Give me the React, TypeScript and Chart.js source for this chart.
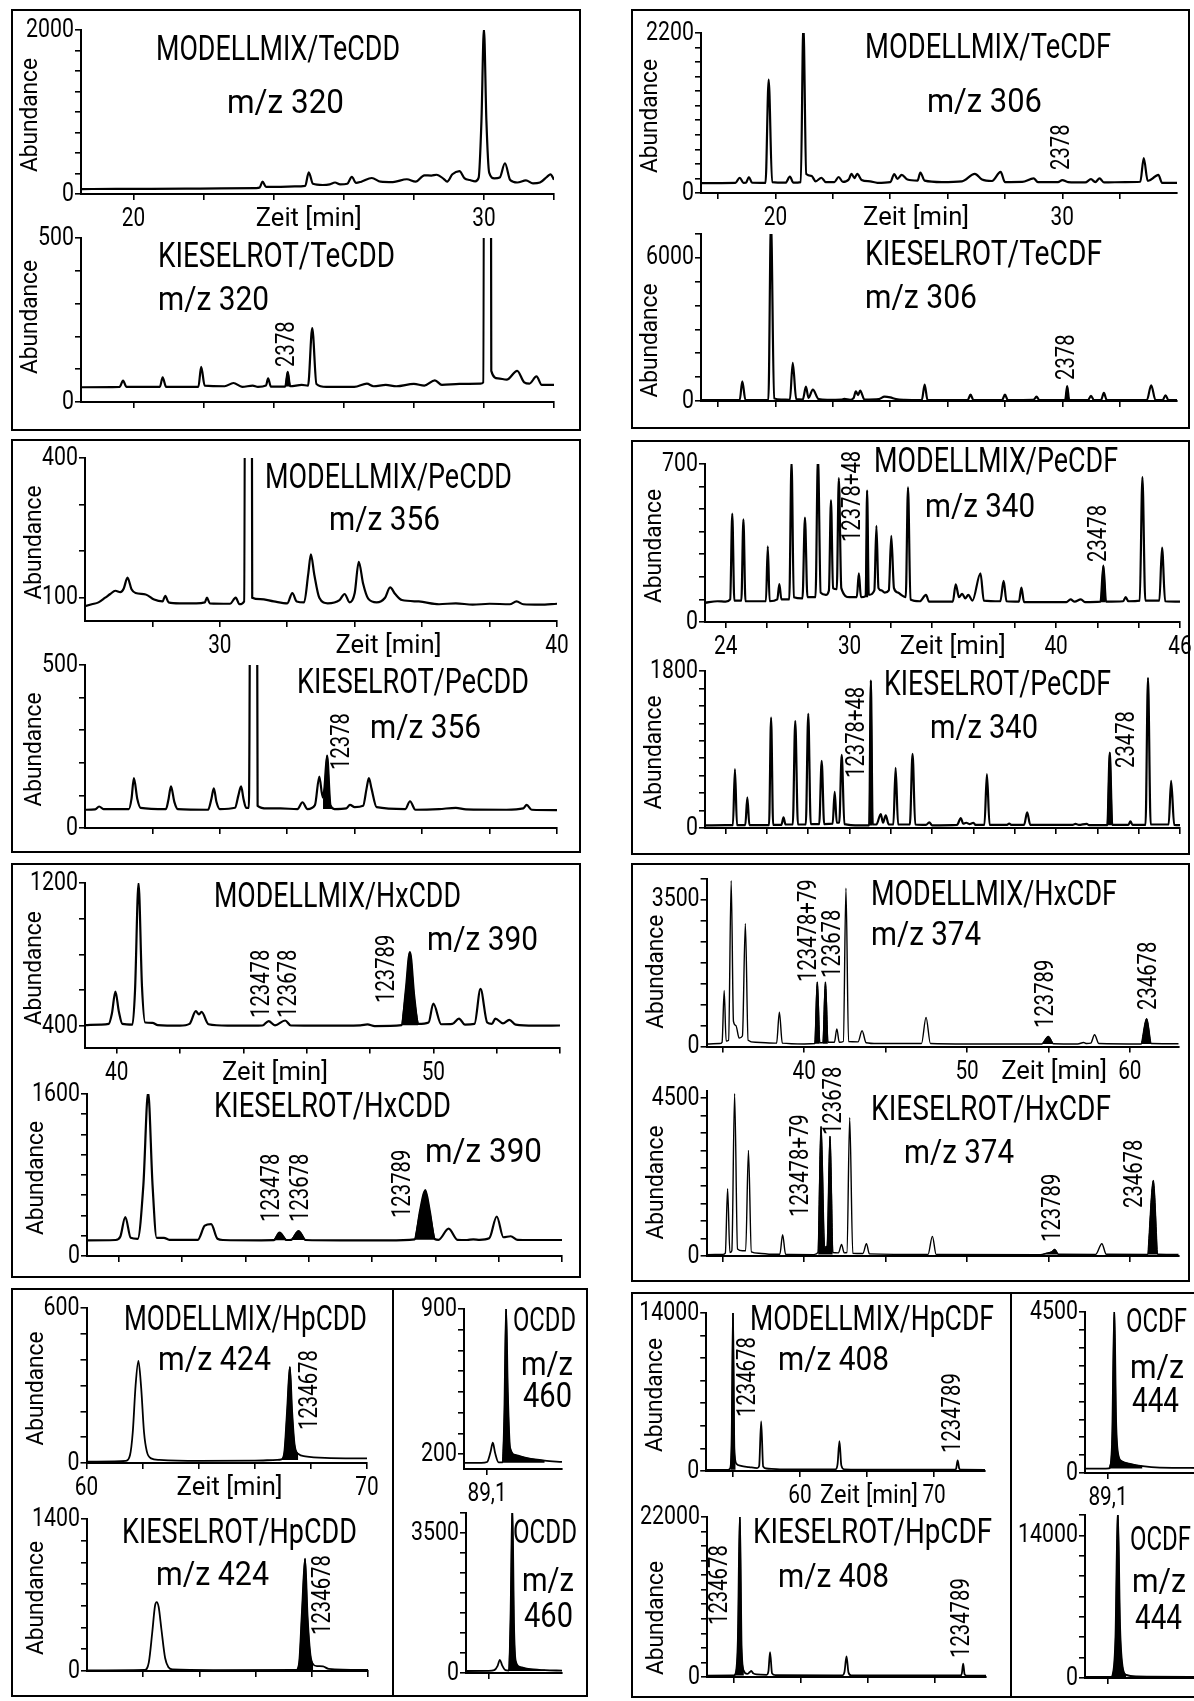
import React, { useEffect, useRef } from 'react';
import { Chart, registerables } from 'chart.js';
Chart.register(...registerables);

type Pt = [number, number];
type Fill = { pts: Pt[]; base: number };
type PeakLabel = { x: number; y: number; text: string };
type Txt = { text: string; x: number; y: number; size: number; w: number };

const FONT = 'Roboto, "DejaVu Sans", sans-serif';
const range = (a: number, b: number, s: number) => { const o: number[] = []; for (let v = a; v <= b + 1e-9; v += s) o.push(+v.toFixed(4)); return o; };

// ---------------- DATA ----------------
// TeCDD m/z 320
const tecddModell: Pt[] = [[18.5,60],[19.5,62],[20.5,63],[21.5,65],[22.5,68],[23.5,72],[23.6,80],[23.68,150],[23.78,88],[24.2,88],[24.6,92],[24.9,100],[25.0,265],[25.12,125],[25.4,110],[25.6,118],[25.75,140],[25.9,118],[26.1,125],[26.23,210],[26.35,135],[26.5,150],[26.8,195],[27.05,150],[27.4,145],[27.8,180],[28.05,150],[28.3,228],[28.5,225],[28.65,235],[28.85,185],[28.95,150],[29.1,240],[29.3,280],[29.45,190],[29.6,170],[29.75,155],[29.85,200],[29.93,900],[30.0,2020],[30.07,900],[30.15,260],[30.3,190],[30.45,200],[30.6,375],[30.75,170],[30.95,140],[31.2,165],[31.4,130],[31.6,140],[31.8,210],[31.9,240],[32.0,175]];
const tecddKiesel: Pt[] = [[18.5,45],[19.6,46],[19.7,65],[19.8,46],[20.75,46],[20.83,75],[20.93,46],[21.85,46],[21.93,107],[22.03,50],[22.6,48],[22.85,58],[23.1,46],[23.4,50],[23.55,46],[23.78,50],[23.84,72],[23.92,47],[24.33,47],[24.4,92],[24.47,48],[24.8,52],[24.98,50],[25.1,225],[25.22,55],[25.5,46],[26.3,46],[26.66,56],[26.85,48],[27.2,52],[27.5,48],[28.0,55],[28.3,50],[28.6,66],[28.8,52],[29.3,55],[29.9,56],[29.98,60],[30.09,8000],[30.21,95],[30.4,72],[30.65,68],[30.95,95],[31.15,60],[31.3,56],[31.5,78],[31.65,52],[32.0,52]];
const tecddKieselFill: Pt[] = [[24.33,47],[24.4,92],[24.47,48]];

// TeCDF m/z 306
const tecdfModell: Pt[] = [[17.4,135],[18.6,138],[18.75,210],[18.88,140],[18.97,142],[19.07,220],[19.18,142],[19.65,140],[19.76,1560],[19.88,150],[20.35,142],[20.5,225],[20.62,142],[20.88,150],[20.97,2330],[21.07,260],[21.25,235],[21.4,160],[21.6,210],[21.75,150],[22.05,150],[22.2,220],[22.35,152],[22.55,185],[22.65,265],[22.75,205],[22.85,262],[23.0,180],[23.3,160],[23.55,140],[24.0,150],[24.14,260],[24.25,195],[24.4,250],[24.6,185],[24.95,170],[25.05,280],[25.2,170],[25.8,150],[26.5,160],[26.95,262],[27.2,185],[27.55,165],[27.85,290],[28.0,150],[28.6,152],[29.0,200],[29.15,150],[29.85,150],[30.0,178],[30.2,150],[30.8,145],[31.0,190],[31.15,150],[31.3,200],[31.45,145],[32.2,150],[32.72,155],[32.84,480],[32.98,165],[33.25,230],[33.35,250],[33.48,140],[34.0,140]];
const tecdfKiesel: Pt[] = [[17.4,40],[18.75,40],[18.84,820],[18.95,42],[19.75,42],[19.84,7600],[19.95,110],[20.2,60],[20.5,50],[20.6,1600],[20.72,80],[20.95,60],[21.06,600],[21.15,130],[21.3,480],[21.5,80],[21.8,50],[22.3,60],[22.4,90],[22.6,50],[22.72,120],[22.8,400],[22.88,250],[22.95,440],[23.1,60],[23.6,80],[23.8,180],[24.0,150],[24.2,80],[24.5,50],[25.1,40],[25.2,690],[25.3,42],[26.7,40],[26.8,270],[26.9,40],[27.9,40],[28.0,270],[28.1,40],[29.0,50],[29.1,180],[29.2,40],[30.1,40],[30.17,620],[30.24,40],[30.9,40],[31.0,220],[31.1,40],[31.35,40],[31.45,340],[31.55,40],[32.95,40],[33.1,660],[33.25,40],[33.5,40],[33.6,240],[33.7,40],[34.0,40]];
const tecdfKieselFill: Pt[] = [[30.11,40],[30.17,620],[30.23,40]];

// PeCDD m/z 356
const pecddModell: Pt[] = [[26.0,82],[26.2,86],[26.4,90],[26.6,100],[26.75,108],[26.9,115],[27.05,112],[27.15,120],[27.26,143],[27.38,118],[27.5,110],[27.8,107],[28.05,96],[28.3,92],[28.38,104],[28.48,90],[28.8,88],[29.3,88],[29.55,90],[29.62,100],[29.7,88],[30.3,87],[30.47,100],[30.58,86],[30.72,92],[30.84,5000],[30.96,100],[31.2,97],[31.6,92],[32.0,88],[32.15,110],[32.28,92],[32.5,90],[32.62,150],[32.7,193],[32.8,150],[32.95,100],[33.2,88],[33.55,95],[33.7,108],[33.85,90],[34.0,110],[34.12,177],[34.25,130],[34.4,98],[34.65,90],[34.9,100],[35.05,122],[35.2,108],[35.4,95],[35.9,92],[36.5,86],[37.0,88],[37.5,85],[38.0,87],[38.6,86],[38.8,92],[39.0,86],[39.5,85],[40.0,87]];
const pecddKiesel: Pt[] = [[26.0,56],[26.3,57],[26.42,66],[26.55,58],[27.3,58],[27.38,90],[27.45,153],[27.55,90],[27.65,62],[28.4,58],[28.48,90],[28.55,128],[28.65,80],[28.75,58],[29.65,56],[29.75,90],[29.82,122],[29.9,80],[30.0,58],[30.45,62],[30.55,100],[30.63,128],[30.7,90],[30.78,62],[30.86,62],[31.0,5000],[31.12,68],[31.4,60],[31.8,60],[32.3,58],[32.45,79],[32.6,58],[32.82,70],[32.95,158],[33.05,95],[33.1,120],[33.18,222],[33.28,70],[33.4,58],[33.75,60],[33.86,71],[34.0,64],[34.25,68],[34.35,120],[34.42,153],[34.5,120],[34.65,64],[35.5,58],[35.64,82],[35.8,56],[36.5,58],[37.0,62],[37.3,57],[38.5,56],[39.0,60],[39.1,71],[39.25,56],[40.0,55]];
const pecddKieselFill: Pt[] = [[33.06,90],[33.1,120],[33.18,222],[33.28,70],[33.33,62]];

// PeCDF m/z 340
const pecdfModell: Pt[] = [[23.0,85],[23.6,92],[24.0,90],[24.22,100],[24.32,480],[24.42,95],[24.76,95],[24.86,455],[24.96,92],[25.95,92],[26.04,335],[26.13,92],[26.5,100],[26.6,168],[26.7,100],[27.08,100],[27.19,715],[27.3,110],[27.72,105],[27.84,463],[27.96,110],[28.35,110],[28.47,735],[28.6,130],[28.85,120],[29.0,140],[29.1,540],[29.2,150],[29.38,145],[29.48,637],[29.6,150],[30.0,110],[30.35,110],[30.45,216],[30.55,110],[30.78,115],[30.85,582],[30.93,120],[31.2,140],[31.3,426],[31.4,150],[31.55,140],[31.7,130],[31.9,140],[32.02,382],[32.15,150],[32.35,130],[32.5,120],[32.72,110],[32.83,596],[32.95,100],[33.4,92],[33.7,120],[33.85,90],[35.0,90],[35.14,167],[35.3,110],[35.45,125],[35.6,105],[35.75,120],[35.95,95],[36.34,216],[36.5,95],[37.3,92],[37.46,182],[37.6,92],[38.2,90],[38.32,152],[38.45,88],[40.5,88],[40.7,100],[40.9,90],[41.2,100],[41.4,88],[42.15,90],[42.29,250],[42.42,90],[43.25,92],[43.37,110],[43.5,92],[44.05,95],[44.18,642],[44.32,95],[45.0,95],[45.13,330],[45.28,92],[46.0,90]];
const pecdfModellFill1: Pt[] = [[30.79,115],[30.85,582],[30.91,120]];
const pecdfModellFill2: Pt[] = [[42.17,90],[42.29,250],[42.4,90]];
const pecdfKiesel: Pt[] = [[23.0,30],[24.0,32],[24.35,32],[24.45,675],[24.55,32],[24.95,32],[25.05,350],[25.15,32],[26.1,32],[26.2,1265],[26.3,35],[26.7,35],[26.8,122],[26.9,40],[27.25,40],[27.37,1227],[27.5,40],[27.88,40],[28.0,1310],[28.12,45],[28.53,45],[28.65,770],[28.77,45],[29.18,50],[29.28,415],[29.38,60],[29.5,60],[29.62,838],[29.75,45],[30.5,30],[30.95,30],[31.03,1690],[31.12,40],[31.3,40],[31.51,160],[31.62,60],[31.75,145],[31.9,40],[32.12,40],[32.23,690],[32.35,40],[32.92,40],[33.05,850],[33.18,40],[33.7,35],[33.86,65],[34.0,30],[35.2,35],[35.39,114],[35.5,50],[35.65,60],[35.8,45],[36.0,60],[36.1,35],[36.53,35],[36.65,617],[36.78,35],[37.6,35],[37.73,50],[37.85,35],[38.45,35],[38.6,179],[38.75,35],[40.8,35],[40.94,48],[41.1,35],[41.48,48],[41.6,32],[42.48,32],[42.6,865],[42.72,35],[43.5,35],[43.6,76],[43.7,35],[44.33,35],[44.45,1722],[44.58,40],[45.45,40],[45.57,541],[45.72,35],[46.0,32]];
const pecdfKieselFill1: Pt[] = [[30.95,30],[31.03,1690],[31.12,40]];
const pecdfKieselFill2: Pt[] = [[42.48,32],[42.6,865],[42.72,35]];

// HxCDD m/z 390
const hxcddModell: Pt[] = [[39.0,405],[39.5,408],[39.75,412],[39.85,470],[39.96,593],[40.07,480],[40.18,412],[40.5,408],[40.58,600],[40.69,1200],[40.8,620],[40.9,420],[41.13,418],[41.3,405],[42.0,402],[42.3,412],[42.5,483],[42.6,465],[42.68,479],[42.9,410],[43.5,402],[44.3,402],[44.6,403],[44.8,428],[45.0,404],[45.32,431],[45.5,403],[46.5,402],[47.7,404],[47.92,409],[48.15,400],[49.0,405],[49.13,600],[49.26,814],[49.4,560],[49.52,412],[49.85,420],[50.0,525],[50.25,410],[50.6,412],[50.81,442],[51.0,408],[51.3,412],[51.49,608],[51.7,420],[51.85,412],[51.96,442],[52.2,415],[52.4,435],[52.6,408],[53.2,402],[54.0,403]];
const hxcddModellFill: Pt[] = [[49.0,405],[49.13,600],[49.26,814],[49.4,560],[49.52,412]];
const hxcddKiesel: Pt[] = [[39.0,155],[39.9,158],[40.05,190],[40.21,385],[40.38,180],[40.6,170],[40.78,700],[40.93,1620],[41.07,700],[41.2,180],[41.43,180],[41.6,160],[42.5,160],[42.72,300],[42.92,315],[43.12,170],[43.3,158],[44.5,155],[44.9,156],[45.08,230],[45.3,158],[45.45,160],[45.68,246],[45.9,158],[47.0,155],[48.5,155],[49.35,165],[49.52,450],[49.68,650],[49.82,450],[49.98,168],[50.1,160],[50.42,270],[50.7,160],[51.0,158],[51.2,165],[51.4,160],[51.7,175],[51.94,390],[52.15,185],[52.38,195],[52.6,160],[53.0,158],[54.0,158]];
const hxcddKieselFill1: Pt[] = [[44.9,156],[45.08,230],[45.3,158]];
const hxcddKieselFill2: Pt[] = [[45.45,160],[45.68,246],[45.9,158]];
const hxcddKieselFill3: Pt[] = [[49.35,165],[49.52,450],[49.68,650],[49.82,450],[49.98,168]];

// HxCDF m/z 374
const hxcdfModell: Pt[] = [[34.0,60],[34.8,70],[34.95,100],[35.08,1340],[35.2,130],[35.35,150],[35.51,3960],[35.65,600],[35.8,500],[36.0,200],[36.2,250],[36.38,2940],[36.55,150],[37.0,100],[38.3,80],[38.47,820],[38.65,80],[40.0,60],[40.65,70],[40.8,1540],[40.95,90],[41.15,90],[41.3,1540],[41.45,100],[41.85,100],[42.0,420],[42.15,100],[42.4,120],[42.56,3780],[42.72,120],[43.3,110],[43.55,375],[43.8,90],[44.5,70],[47.2,70],[47.48,695],[47.75,70],[50.0,60],[54.6,60],[54.99,240],[55.3,65],[56.8,60],[57.16,96],[57.35,70],[57.6,80],[57.83,280],[58.1,70],[60.7,60],[61.03,665],[61.3,70],[63.0,65]];
const hxcdfModellFill1: Pt[] = [[40.65,70],[40.8,1540],[40.95,90]];
const hxcdfModellFill2: Pt[] = [[41.15,90],[41.3,1540],[41.45,100]];
const hxcdfModellFill3: Pt[] = [[54.6,60],[54.99,240],[55.3,65]];
const hxcdfModellFill4: Pt[] = [[60.7,60],[61.03,665],[61.3,70]];
const hxcdfKiesel: Pt[] = [[34.0,40],[35.0,45],[35.15,80],[35.29,1915],[35.43,100],[35.55,150],[35.72,4620],[35.9,200],[36.2,150],[36.4,150],[36.57,3010],[36.75,120],[37.2,80],[38.0,50],[38.5,50],[38.67,610],[38.85,50],[40.6,40],[40.85,100],[41.03,3690],[41.25,250],[41.4,280],[41.58,3410],[41.75,100],[42.1,90],[42.29,330],[42.45,90],[42.62,100],[42.79,3940],[42.98,80],[43.6,70],[43.82,350],[44.0,60],[47.6,45],[47.87,560],[48.1,45],[54.5,40],[54.9,80],[55.2,120],[55.38,190],[55.6,50],[57.9,45],[58.28,350],[58.55,50],[61.1,45],[61.44,2150],[61.7,50],[63.0,45]];
const hxcdfKieselFill1: Pt[] = [[40.85,100],[41.03,3690],[41.25,250],[41.4,280],[41.58,3410],[41.75,100]];
const hxcdfKieselFill2: Pt[] = [[54.6,40],[54.9,80],[55.2,120],[55.38,190],[55.6,50]];
const hxcdfKieselFill3: Pt[] = [[61.1,45],[61.44,2150],[61.7,50]];

// HpCDD m/z 424, OCDD m/z 460
const hpcddModell: Pt[] = [[60.0,5],[61.0,6],[61.4,8],[61.55,30],[61.65,120],[61.75,300],[61.85,395],[61.95,290],[62.05,120],[62.15,45],[62.3,18],[62.6,12],[64.0,8],[66.0,9],[66.8,12],[66.95,14],[67.05,40],[67.15,200],[67.25,372],[67.33,200],[67.42,70],[67.55,35],[67.8,26],[68.5,20],[70.0,18]];
const hpcddModellFill: Pt[] = [[66.95,14],[67.05,40],[67.15,200],[67.25,372],[67.33,200],[67.42,70],[67.55,35]];
const hpcddKiesel: Pt[] = [[60.0,6],[62.05,10],[62.2,80],[62.32,350],[62.42,600],[62.48,635],[62.55,590],[62.65,380],[62.78,120],[62.9,35],[63.05,14],[64.5,8],[67.45,10],[67.55,80],[67.65,550],[67.76,1035],[67.85,500],[67.95,150],[68.05,60],[68.2,45],[68.4,42],[68.6,20],[70.0,10]];
const hpcddKieselFill: Pt[] = [[67.45,10],[67.55,80],[67.65,550],[67.76,1035],[67.85,500],[67.95,150],[68.05,60]];
const ocddModell: Pt[] = [[88.9,158],[89.05,158],[89.1,162],[89.13,210],[89.15,255],[89.17,205],[89.2,160],[89.235,160],[89.25,400],[89.265,910],[89.28,500],[89.3,230],[89.35,195],[89.45,180],[89.6,168],[89.75,162]];
const ocddModellFill: Pt[] = [[89.235,160],[89.25,400],[89.265,910],[89.28,500],[89.3,230],[89.35,195],[89.45,180],[89.6,168]];
const ocddKiesel: Pt[] = [[88.9,50],[89.1,52],[89.15,70],[89.18,180],[89.2,330],[89.22,190],[89.25,70],[89.28,60],[89.295,1500],[89.31,4200],[89.325,1200],[89.34,300],[89.38,150],[89.45,100],[89.6,70],[89.75,60]];
const ocddKieselFill: Pt[] = [[89.28,60],[89.295,1500],[89.31,4200],[89.325,1200],[89.34,300],[89.38,150],[89.45,100],[89.6,70]];

// HpCDF m/z 408, OCDF m/z 444
const hpcdfModell: Pt[] = [[53.0,100],[54.6,100],[54.8,250],[54.9,3000],[55.0,14300],[55.1,2000],[55.25,650],[55.6,450],[56.2,350],[56.8,260],[56.95,450],[57.1,4400],[57.25,400],[57.5,220],[58.5,150],[62.65,150],[62.8,600],[62.94,2650],[63.08,500],[63.3,150],[66.0,120],[71.55,110],[71.65,220],[71.76,940],[71.88,220],[72.0,110],[73.8,100]];
const hpcdfModellFill: Pt[] = [[54.8,250],[54.9,3000],[55.0,14300],[55.1,2000],[55.2,800]];
const hpcdfKiesel: Pt[] = [[53.0,200],[55.0,210],[55.15,600],[55.3,5000],[55.45,22500],[55.58,4000],[55.75,800],[56.0,420],[56.2,700],[56.3,830],[56.45,500],[56.7,350],[57.45,300],[57.58,800],[57.7,3430],[57.85,500],[58.1,250],[63.1,230],[63.25,700],[63.4,2840],[63.55,600],[63.75,220],[71.9,210],[72.0,500],[72.1,1830],[72.2,400],[72.35,200],[73.8,200]];
const hpcdfKieselFill: Pt[] = [[55.05,220],[55.15,600],[55.3,5000],[55.45,22500],[55.58,4000],[55.75,800]];
const ocdfModell: Pt[] = [[88.9,120],[89.05,125],[89.11,130],[89.135,800],[89.155,4600],[89.17,1500],[89.19,500],[89.22,330],[89.3,250],[89.4,190],[89.55,150],[89.9,140]];
const ocdfModellFill: Pt[] = [[89.11,130],[89.135,800],[89.155,4600],[89.17,1500],[89.19,500],[89.22,330],[89.3,250],[89.4,190]];
const ocdfKiesel: Pt[] = [[88.9,100],[89.1,100],[89.13,110],[89.14,300],[89.165,4000],[89.185,16500],[89.205,5000],[89.23,900],[89.26,300],[89.35,150],[89.9,110]];
const ocdfKieselFill: Pt[] = [[89.13,110],[89.14,300],[89.165,4000],[89.185,16500],[89.205,5000],[89.23,900],[89.26,300]];

// ---------------- LAYOUT ----------------
interface PanelSpec {
  plot: [number, number, number, number];
  x: [number, number]; y: [number, number];
  xTicks: number[]; xLabels: [number, string][]; zeit?: number; zeitW?: number;
  yTicks: number[]; yLabels: number[];
  trace: Pt[]; fills: Fill[]; peaks: PeakLabel[];
  texts: Txt[]; abundance: boolean; abShift?: number; lw?: number;
}
interface BoxSpec { rect: [number, number, number, number]; dividers: number[]; panels: PanelSpec[] }

const T = (text: string, x: number, y: number, size: number, w: number): Txt => ({ text, x, y, size, w });
const none: [number, string][] = [];

const boxes: BoxSpec[] = [
  { rect: [11, 9, 581, 431], dividers: [], panels: [
    { plot: [81, 30, 554, 194], x: [18.5, 32], y: [0, 2000], xTicks: range(20, 32, 2), xLabels: [[20, '20'], [30, '30']], zeit: 25,
      yTicks: range(0, 2000, 250), yLabels: [2000, 0], trace: tecddModell, fills: [], peaks: [], abundance: true,
      texts: [T('MODELLMIX/TeCDD', 156, 60, 35, 244), T('m/z 320', 227, 113, 34, 117)] },
    { plot: [81, 238, 554, 402], x: [18.5, 32], y: [0, 500], xTicks: range(20, 32, 2), xLabels: none,
      yTicks: range(0, 500, 100), yLabels: [500, 0], trace: tecddKiesel, fills: [{ pts: tecddKieselFill, base: 47 }],
      peaks: [{ x: 24.4, y: 107, text: '2378' }], abundance: true, abShift: -6,
      texts: [T('KIESELROT/TeCDD', 158, 267, 35, 237), T('m/z 320', 158, 310, 34, 111)] },
  ] },
  { rect: [631, 9, 1190, 429], dividers: [], panels: [
    { plot: [701, 33, 1177, 193], x: [17.4, 34], y: [0, 2200], xTicks: range(18, 32, 2), xLabels: [[20, '20'], [30, '30']], zeit: 24.9,
      yTicks: range(0, 2200, 200), yLabels: [2200, 0], trace: tecdfModell, fills: [], peaks: [{ x: 30.0, y: 316, text: '2378' }], abundance: true,
      texts: [T('MODELLMIX/TeCDF', 865, 58, 35, 246), T('m/z 306', 927, 112, 34, 115)] },
    { plot: [701, 234, 1177, 401], x: [17.4, 34], y: [0, 7000], xTicks: range(18, 32, 2), xLabels: none,
      yTicks: range(0, 7000, 1000), yLabels: [6000, 0], trace: tecdfKiesel, fills: [{ pts: tecdfKieselFill, base: 40 }],
      peaks: [{ x: 30.17, y: 880, text: '2378' }], abundance: true, abShift: 20,
      texts: [T('KIESELROT/TeCDF', 865, 265, 35, 237), T('m/z 306', 865, 308, 34, 112)] },
  ] },
  { rect: [11, 439, 581, 853], dividers: [], panels: [
    { plot: [85, 458, 557, 621], x: [26, 40], y: [50, 400], xTicks: range(28, 40, 2), xLabels: [[30, '30'], [40, '40']], zeit: 35,
      yTicks: range(100, 400, 100), yLabels: [400, 100], trace: pecddModell, fills: [], peaks: [], abundance: true,
      texts: [T('MODELLMIX/PeCDD', 265, 488, 35, 247), T('m/z 356', 329, 530, 34, 111)] },
    { plot: [85, 665, 557, 828], x: [26, 40], y: [0, 500], xTicks: range(28, 40, 2), xLabels: none,
      yTicks: range(0, 500, 100), yLabels: [500, 0], trace: pecddKiesel, fills: [{ pts: pecddKieselFill, base: 58 }],
      peaks: [{ x: 33.65, y: 178, text: '12378' }], abundance: true,
      texts: [T('KIESELROT/PeCDD', 297, 693, 35, 232), T('m/z 356', 370, 738, 34, 111)] },
  ] },
  { rect: [631, 440, 1190, 855], dividers: [], panels: [
    { plot: [705, 464, 1180, 622], x: [23, 46], y: [0, 700], xTicks: range(24, 46, 2), xLabels: [[24, '24'], [30, '30'], [40, '40'], [46, '46']], zeit: 35,
      yTicks: range(0, 700, 100), yLabels: [700, 0], trace: pecdfModell,
      fills: [{ pts: pecdfModellFill1, base: 110 }, { pts: pecdfModellFill2, base: 88 }],
      peaks: [{ x: 30.21, y: 354, text: '12378+48' }, { x: 42.12, y: 266, text: '23478' }], abundance: true,
      texts: [T('MODELLMIX/PeCDF', 874, 472, 35, 244), T('m/z 340', 925, 517, 34, 110)] },
    { plot: [705, 671, 1180, 828], x: [23, 46], y: [0, 1800], xTicks: range(24, 46, 2), xLabels: none,
      yTicks: range(0, 1800, 200), yLabels: [1800, 0], trace: pecdfKiesel,
      fills: [{ pts: pecdfKieselFill1, base: 30 }, { pts: pecdfKieselFill2, base: 32 }],
      peaks: [{ x: 30.4, y: 573, text: '12378+48' }, { x: 43.47, y: 688, text: '23478' }], abundance: true,
      texts: [T('KIESELROT/PeCDF', 884, 695, 35, 227), T('m/z 340', 930, 738, 34, 108)] },
  ] },
  { rect: [11, 863, 581, 1278], dividers: [], panels: [
    { plot: [85, 883, 560, 1047.5], x: [39, 54], y: [280, 1200], xTicks: range(40, 54, 2), xLabels: [[40, '40'], [50, '50']], zeit: 45,
      yTicks: range(400, 1200, 200), yLabels: [1200, 400], trace: hxcddModell, fills: [{ pts: hxcddModellFill, base: 405 }],
      peaks: [{ x: 44.62, y: 445, text: '123478' }, { x: 45.47, y: 445, text: '123678' }, { x: 48.54, y: 529, text: '123789' }], abundance: true,
      texts: [T('MODELLMIX/HxCDD', 214, 907, 35, 247), T('m/z 390', 427, 950, 34, 111)] },
    { plot: [87, 1094, 562, 1256], x: [39, 54], y: [0, 1600], xTicks: range(40, 54, 2), xLabels: none,
      yTicks: range(0, 1600, 200), yLabels: [1600, 0], trace: hxcddKiesel,
      fills: [{ pts: hxcddKieselFill1, base: 155 }, { pts: hxcddKieselFill2, base: 157 }, { pts: hxcddKieselFill3, base: 160 }],
      peaks: [{ x: 44.87, y: 336, text: '123478' }, { x: 45.76, y: 336, text: '123678' }, { x: 49.0, y: 375, text: '123789' }], abundance: true,
      texts: [T('KIESELROT/HxCDD', 214, 1117, 35, 237), T('m/z 390', 425, 1162, 34, 117)] },
  ] },
  { rect: [631, 863, 1190, 1282], dividers: [], panels: [
    { plot: [706.6, 879, 1178.7, 1046.5], x: [34, 63], y: [0, 4000], xTicks: range(35, 60, 5), xLabels: [[40, '40'], [50, '50'], [60, '60']], zeit: 55.35,
      yTicks: range(0, 4000, 500), yLabels: [3500, 0], trace: hxcdfModell, lw: 1.4,
      fills: [{ pts: hxcdfModellFill1, base: 65 }, { pts: hxcdfModellFill2, base: 65 }, { pts: hxcdfModellFill3, base: 60 }, { pts: hxcdfModellFill4, base: 60 }],
      peaks: [{ x: 40.3, y: 1540, text: '123478+79' }, { x: 41.78, y: 1636, text: '123678' }, { x: 54.9, y: 442, text: '123789' }, { x: 61.18, y: 872, text: '234678' }], abundance: true, abShift: 6,
      texts: [T('MODELLMIX/HxCDF', 871, 905, 35, 246), T('m/z 374', 871, 945, 34, 110)] },
    { plot: [706.6, 1091, 1178.7, 1256], x: [34, 63], y: [0, 4700], xTicks: range(35, 60, 5), xLabels: none,
      yTicks: range(0, 4500, 500), yLabels: [4500, 0], trace: hxcdfKiesel, lw: 1.4,
      fills: [{ pts: hxcdfKieselFill1, base: 40 }, { pts: hxcdfKieselFill2, base: 40 }, { pts: hxcdfKieselFill3, base: 45 }],
      peaks: [{ x: 39.85, y: 1111, text: '123478+79' }, { x: 41.88, y: 3446, text: '123678' }, { x: 55.3, y: 399, text: '123789' }, { x: 60.35, y: 1367, text: '234678' }], abundance: true, abShift: 6,
      texts: [T('KIESELROT/HxCDF', 871, 1120, 35, 240), T('m/z 374', 904, 1163, 34, 110)] },
  ] },
  { rect: [11, 1288, 588, 1697], dividers: [393], panels: [
    { plot: [86.5, 1308, 367, 1463], x: [60, 70], y: [0, 600], xTicks: range(60, 70, 2), xLabels: [[60, '60'], [70, '70']], zeit: 65.1,
      yTicks: range(0, 600, 100), yLabels: [600, 0], trace: hpcddModell, lw: 1.8, fills: [{ pts: hpcddModellFill, base: 12 }],
      peaks: [{ x: 67.97, y: 128, text: '1234678' }], abundance: true,
      texts: [T('MODELLMIX/HpCDD', 124, 1330, 35, 243), T('m/z 424', 158, 1370, 34, 113)] },
    { plot: [87, 1519, 368, 1671], x: [60, 70], y: [0, 1400], xTicks: range(62, 70, 2), xLabels: none,
      yTicks: range(0, 1400, 200), yLabels: [1400, 0], trace: hpcddKiesel, lw: 1.8, fills: [{ pts: hpcddKieselFill, base: 9 }],
      peaks: [{ x: 68.4, y: 332, text: '1234678' }], abundance: true,
      texts: [T('KIESELROT/HpCDD', 122, 1543, 35, 235), T('m/z 424', 156, 1585, 34, 113)] },
    { plot: [464, 1309, 562, 1469], x: [88.9, 89.75], y: [128, 900], xTicks: [89.1], xLabels: [[89.1, '89,1']],
      yTicks: range(200, 900, 100), yLabels: [900, 200], trace: ocddModell, lw: 1.8, fills: [{ pts: ocddModellFill, base: 158 }],
      peaks: [], abundance: false,
      texts: [T('OCDD', 513, 1331, 34, 63), T('m/z', 521, 1375, 34, 52), T('460', 523, 1407, 35, 49)] },
    { plot: [466, 1513, 562, 1673], x: [88.9, 89.75], y: [0, 4000], xTicks: [89.1], xLabels: none,
      yTicks: range(0, 4000, 500), yLabels: [3500, 0], trace: ocddKiesel, lw: 1.8, fills: [{ pts: ocddKieselFill, base: 50 }],
      peaks: [], abundance: false,
      texts: [T('OCDD', 513, 1543, 34, 64), T('m/z', 522, 1591, 34, 52), T('460', 524, 1627, 35, 49)] },
  ] },
  { rect: [631, 1292, 1215, 1698], dividers: [1011], panels: [
    { plot: [706.2, 1313, 985, 1471], x: [53, 73.8], y: [0, 14000], xTicks: range(55, 70, 5), xLabels: [[60, '60'], [70, '70']], zeit: 65.15, zeitW: 98,
      yTicks: range(0, 14000, 2000), yLabels: [14000, 0], trace: hpcdfModell, lw: 1.8, fills: [{ pts: hpcdfModellFill, base: 100 }],
      peaks: [{ x: 56.12, y: 4785, text: '1234678' }, { x: 71.42, y: 1595, text: '1234789' }], abundance: true,
      texts: [T('MODELLMIX/HpCDF', 750, 1330, 35, 244), T('m/z 408', 778, 1370, 34, 111)] },
    { plot: [707, 1517, 986, 1677], x: [53, 73.8], y: [0, 22000], xTicks: range(55, 70, 5), xLabels: none,
      yTicks: range(0, 22000, 2000), yLabels: [22000, 0], trace: hpcdfKiesel, lw: 1.8, fills: [{ pts: hpcdfKieselFill, base: 200 }],
      peaks: [{ x: 53.97, y: 7150, text: '1234678' }, { x: 72.03, y: 2612, text: '1234789' }], abundance: true, abShift: 18,
      texts: [T('KIESELROT/HpCDF', 753, 1543, 35, 239), T('m/z 408', 778, 1587, 34, 111)] },
    { plot: [1085, 1312, 1200, 1473], x: [88.9, 89.9], y: [0, 4500], xTicks: [89.1], xLabels: [[89.1, '89,1']],
      yTicks: range(0, 4500, 500), yLabels: [4500, 0], trace: ocdfModell, lw: 1.8, fills: [{ pts: ocdfModellFill, base: 125 }],
      peaks: [], abundance: false,
      texts: [T('OCDF', 1126, 1332, 34, 61), T('m/z', 1130, 1378, 34, 54), T('444', 1132, 1412, 35, 47)] },
    { plot: [1085, 1515, 1200, 1678], x: [88.9, 89.9], y: [0, 16000], xTicks: [89.1], xLabels: none,
      yTicks: range(0, 16000, 2000), yLabels: [14000, 0], trace: ocdfKiesel, lw: 1.8, fills: [{ pts: ocdfKieselFill, base: 100 }],
      peaks: [], abundance: false,
      texts: [T('OCDF', 1130, 1550, 34, 61), T('m/z', 1132, 1592, 34, 54), T('444', 1135, 1629, 35, 47)] },
  ] },
];

// ---------------- DRAWING ----------------
function drawText(ctx: CanvasRenderingContext2D, s: string, x: number, y: number, size: number,
  o: { w?: number; sx?: number; align?: CanvasTextAlign; baseline?: CanvasTextBaseline; rotate?: boolean } = {}) {
  ctx.save();
  ctx.font = `${size}px ${FONT}`;
  const natural = ctx.measureText(s).width || 1;
  const sx = o.w ? o.w / natural : (o.sx ?? 0.86);
  ctx.translate(x, y);
  if (o.rotate) ctx.rotate(-Math.PI / 2);
  ctx.scale(sx, 1);
  ctx.textAlign = o.align ?? 'left';
  ctx.textBaseline = o.baseline ?? 'alphabetic';
  ctx.fillStyle = '#000';
  ctx.fillText(s, 0, 0);
  ctx.restore();
}

const M = 14; // canvas margin around each box so edge labels are not cut

function PanelCanvas({ box, p }: { box: BoxSpec; p: PanelSpec }) {
  const ref = useRef<HTMLCanvasElement>(null);
  const cl = box.rect[0] - M, ct = box.rect[1] - M, cr = box.rect[2] + M, cb = box.rect[3] + M;
  const W = cr - cl, H = cb - ct;
  useEffect(() => {
    const [l, t, r, b] = p.plot;
    const textPlugin = {
      id: 'panelText',
      afterDraw(chart: any) {
        const ctx = chart.ctx as CanvasRenderingContext2D;
        const xs = chart.scales.x, ys = chart.scales.y, ca = chart.chartArea;
        for (const v of p.yLabels) drawText(ctx, String(v), ca.left - 7, ys.getPixelForValue(v), 26, { sx: 0.82, align: 'right', baseline: 'middle' });
        for (const [v, s] of p.xLabels) drawText(ctx, s, xs.getPixelForValue(v), ca.bottom + 32, 26, { sx: 0.8, align: 'center' });
        if (p.zeit !== undefined) drawText(ctx, 'Zeit [min]', xs.getPixelForValue(p.zeit), ca.bottom + 32, 26, { w: p.zeitW ?? 106, align: 'center' });
        for (const pk of p.peaks) drawText(ctx, pk.text, xs.getPixelForValue(pk.x), ys.getPixelForValue(pk.y), 26, { sx: 0.78, rotate: true, baseline: 'middle' });
        for (const tx of p.texts) drawText(ctx, tx.text, tx.x - cl, tx.y - ct, tx.size, { w: tx.w });
        if (p.abundance) drawText(ctx, 'Abundance', ca.left - 50, (ca.top + ca.bottom) / 2 + 3 + (p.abShift ?? 0), 24, { w: 114, rotate: true, align: 'center', baseline: 'middle' });
      },
    };
    const lw = p.lw ?? 2.2;
    const datasets: any[] = [
      { data: p.trace.map(([x, y]) => ({ x, y })), borderColor: '#000', borderWidth: lw, pointRadius: 0, fill: false, cubicInterpolationMode: 'monotone' },
      ...p.fills.map((f) => ({ data: f.pts.map(([x, y]) => ({ x, y })), borderColor: '#000', borderWidth: 1, backgroundColor: '#000', pointRadius: 0, fill: { value: f.base }, cubicInterpolationMode: 'monotone' })),
    ];
    const axisCommon = (ticks: number[]) => ({
      type: 'linear' as const,
      border: { display: true, color: '#000', width: 2 },
      grid: { display: true, drawOnChartArea: false, drawTicks: true, tickLength: 6, color: '#000', lineWidth: 1.6 },
      ticks: { display: false },
      afterBuildTicks: (s: any) => { s.ticks = ticks.map((v) => ({ value: v })); },
    });
    const chart = new Chart(ref.current!, {
      type: 'line',
      data: { datasets },
      plugins: [textPlugin],
      options: {
        animation: false, responsive: false, devicePixelRatio: 1, events: [],
        layout: { padding: { left: l - cl, top: t - ct, right: cr - r, bottom: cb - b } },
        plugins: { legend: { display: false }, tooltip: { enabled: false } },
        scales: {
          x: { ...axisCommon(p.xTicks), position: 'bottom', min: p.x[0], max: p.x[1], afterFit: (s: any) => { s.height = 0; } },
          y: { ...axisCommon(p.yTicks), position: 'left', min: p.y[0], max: p.y[1], afterFit: (s: any) => { s.width = 0; } },
        } as any,
      },
    } as any);
    return () => chart.destroy();
  }, [box, p]);
  return <canvas ref={ref} width={W} height={H} style={{ position: 'absolute', left: cl, top: ct, width: W, height: H }} />;
}

function BoxView({ box }: { box: BoxSpec }) {
  const [l, t, r, b] = box.rect;
  return (
    <>
      <div style={{ position: 'absolute', left: l, top: t, width: r - l, height: b - t, border: '2px solid #000', boxSizing: 'border-box' }} />
      {box.dividers.map((d) => (
        <div key={d} style={{ position: 'absolute', left: d - 1, top: t, width: 2, height: b - t, background: '#000' }} />
      ))}
      {box.panels.map((p, i) => <PanelCanvas key={i} box={box} p={p} />)}
    </>
  );
}

export default function App() {
  return (
    <div style={{ position: 'absolute', left: 0, top: 0, width: 1194, height: 1701, overflow: 'hidden', background: '#fff' }}>
      {boxes.map((b, i) => <BoxView key={i} box={b} />)}
    </div>
  );
}
